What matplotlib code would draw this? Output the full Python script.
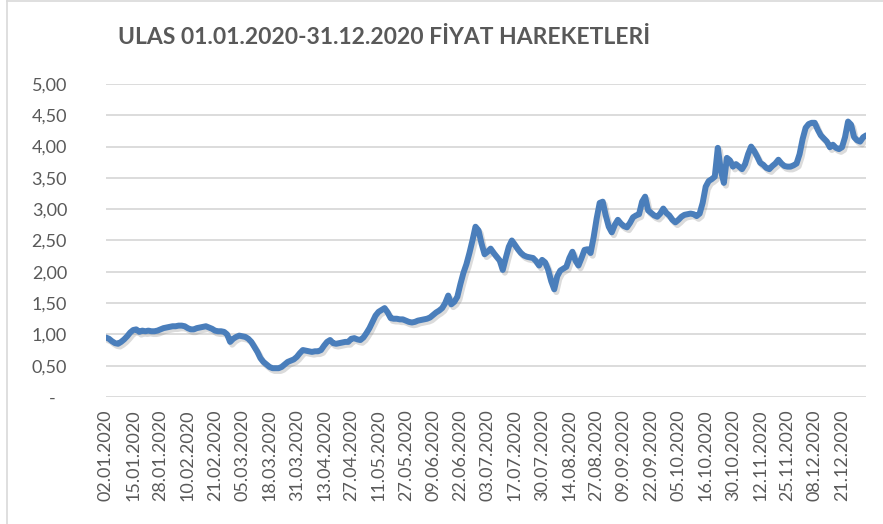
import numpy as np
import matplotlib
matplotlib.use('Agg')
import matplotlib.pyplot as plt
import matplotlib.patheffects as pe
from matplotlib.transforms import ScaledTranslation
from matplotlib.lines import Line2D

plt.rcParams['font.family'] = ['Lato', 'DejaVu Sans']

title = 'ULAS 01.01.2020-31.12.2020 FİYAT HAREKETLERİ'

# daily closing prices (one value per trading day)
prices = [
    0.95, 0.93, 0.89, 0.86, 0.85, 0.88, 0.92, 0.97, 1.03,
    1.07, 1.08, 1.04, 1.06, 1.05, 1.06, 1.05, 1.05, 1.06,
    1.08, 1.10, 1.11, 1.12, 1.13, 1.13, 1.14, 1.14, 1.13,
    1.10, 1.08, 1.08, 1.10, 1.11, 1.12, 1.13, 1.11, 1.09,
    1.06, 1.05, 1.05, 1.04, 1.00, 0.88, 0.93, 0.96, 0.98,
    0.97, 0.96, 0.93, 0.88, 0.80, 0.72, 0.62, 0.56, 0.52,
    0.48, 0.46, 0.46, 0.46, 0.48, 0.52, 0.56, 0.58, 0.60,
    0.64, 0.70, 0.75, 0.74, 0.73, 0.72, 0.73, 0.73, 0.75,
    0.82, 0.88, 0.91, 0.86, 0.85, 0.86, 0.87, 0.88, 0.88,
    0.93, 0.94, 0.92, 0.91, 0.95, 1.02, 1.10, 1.20, 1.30,
    1.36, 1.39, 1.42, 1.35, 1.26, 1.25, 1.25, 1.24, 1.24,
    1.22, 1.20, 1.19, 1.20, 1.22, 1.23, 1.24, 1.25, 1.27,
    1.31, 1.35, 1.38, 1.42, 1.50, 1.62, 1.48, 1.52, 1.60,
    1.80, 1.98, 2.12, 2.30, 2.50, 2.72, 2.66, 2.45, 2.28,
    2.32, 2.37, 2.30, 2.24, 2.18, 2.03, 2.22, 2.40, 2.50,
    2.43, 2.36, 2.30, 2.26, 2.24, 2.23, 2.22, 2.17, 2.10,
    2.19, 2.15, 2.03, 1.85, 1.72, 1.93, 2.02, 2.05, 2.08,
    2.22, 2.32, 2.18, 2.10, 2.22, 2.35, 2.36, 2.30, 2.55,
    2.85, 3.10, 3.12, 2.90, 2.72, 2.63, 2.75, 2.83, 2.77,
    2.73, 2.71, 2.78, 2.87, 2.90, 2.92, 3.12, 3.20, 2.98,
    2.94, 2.90, 2.88, 2.93, 3.01, 2.94, 2.90, 2.83, 2.79,
    2.83, 2.88, 2.91, 2.92, 2.93, 2.92, 2.89, 2.93, 3.10,
    3.36, 3.45, 3.48, 3.52, 3.98, 3.62, 3.42, 3.82, 3.78,
    3.68, 3.72, 3.68, 3.64, 3.72, 3.88, 4.00, 3.93, 3.84,
    3.74, 3.71, 3.66, 3.64, 3.69, 3.73, 3.79, 3.73, 3.69,
    3.68, 3.68, 3.70, 3.73, 3.88, 4.12, 4.30, 4.36, 4.38,
    4.38, 4.27, 4.18, 4.13, 4.08, 3.99, 4.03, 3.98, 3.96,
    3.99, 4.15, 4.40, 4.35, 4.15, 4.10, 4.08, 4.15, 4.18,
]

date_labels = [
    '02.01.2020', '15.01.2020', '28.01.2020', '10.02.2020', '21.02.2020',
    '05.03.2020', '18.03.2020', '31.03.2020', '13.04.2020', '27.04.2020',
    '11.05.2020', '27.05.2020', '09.06.2020', '22.06.2020', '03.07.2020',
    '17.07.2020', '30.07.2020', '14.08.2020', '27.08.2020', '09.09.2020',
    '22.09.2020', '05.10.2020', '16.10.2020', '30.10.2020', '12.11.2020',
    '25.11.2020', '08.12.2020', '21.12.2020',
]
label_step = 9

y_ticks = [0, 0.5, 1, 1.5, 2, 2.5, 3, 3.5, 4, 4.5, 5]
y_labels = ['-', '0,50', '1,00', '1,50', '2,00', '2,50', '3,00', '3,50', '4,00', '4,50', '5,00']

text_col = '#595959'
grid_col = '#d9d9d9'
line_col = '#4a7ebb'

fig = plt.figure(figsize=(8.83, 5.24), dpi=100)
ax = fig.add_axes([0.120, 0.2424, 0.861, 0.5973])

x = np.arange(len(prices))
ax.plot(x, prices, color=line_col, lw=4.3, solid_capstyle='round', solid_joinstyle='round',
        path_effects=[pe.SimpleLineShadow(offset=(1.5, -2), shadow_color='#888888', alpha=0.3),
                      pe.Normal()], zorder=3)

ax.set_xlim(0, len(prices) - 1)
ax.set_ylim(0, 5)
ax.set_yticks(y_ticks)
ax.set_yticklabels(y_labels)
ax.set_xticks(np.arange(0, len(date_labels) * label_step, label_step))
ax.set_xticklabels(date_labels, rotation=90, va='top', ha='center')

ax.grid(axis='y', color=grid_col, lw=1.3)
ax.set_axisbelow(True)
for s in ax.spines.values():
    s.set_visible(False)
ax.tick_params(axis='both', length=0, colors=text_col, labelsize=13)
ax.tick_params(axis='y', pad=28)
ax.tick_params(axis='x', pad=9)

# accounting style dash for zero sits left of the numbers
zl = ax.get_yticklabels()[0]
zl.set_transform(zl.get_transform() + ScaledTranslation(-11 / 100, 0, fig.dpi_scale_trans))

fig.text(0.435, 0.929, title, ha='center', va='center', fontsize=16.5, fontweight='bold', color=text_col)

# chart area border
fig.add_artist(Line2D([7 / 883, 7 / 883], [0, 1 - 1 / 524], transform=fig.transFigure, color=grid_col, lw=1.2))
fig.add_artist(Line2D([7 / 883, 1], [1 - 1 / 524, 1 - 1 / 524], transform=fig.transFigure, color=grid_col, lw=1.2))

fig.savefig('out.png', dpi=100)
